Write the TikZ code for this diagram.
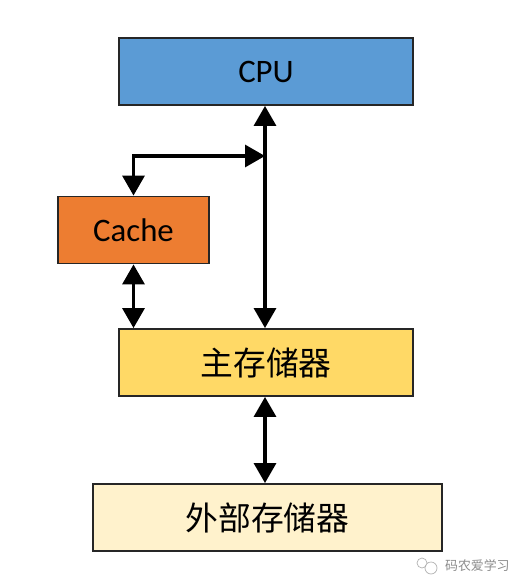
\documentclass[tikz,border=0pt]{standalone}
\usepackage{fontspec}
\setmainfont{Carlito}
\newfontfamily\cjk{Noto Sans CJK SC}
\usetikzlibrary{arrows.meta, positioning}

\begin{document}
\begin{tikzpicture}[x=0.03cm, y=-0.03cm]

\tikzset{
  unit/.style={rectangle, draw=black!85, line width=1.6pt, inner sep=0pt,
    minimum height=2.01cm, font=\fontsize{28}{30}\selectfont},
  bus/.style={line width=2.8pt, {Triangle[length=6mm, width=6.6mm]}-{Triangle[length=6mm, width=6.6mm]}},
  wmtext/.style={text=black!45, font=\cjk\fontsize{11}{12}\selectfont}
}

% --- Rahmen ---
\useasboundingbox (0,0) rectangle (526,588);

% --- Bausteine (mit absoluten Koordinaten) ---
\node[unit, fill={rgb,255:red,91;green,155;blue,213}, minimum width=8.82cm] (cpu) at (266,71.5) {CPU};
\node[unit, fill={rgb,255:red,237;green,125;blue,49}, minimum width=4.53cm] (cache) at (133.5,230) {Cache};
\node[unit, fill={rgb,255:red,255;green,217;blue,102}, minimum width=8.82cm] (mem) at (266,362.5) {\cjk\fontsize{28}{30}\selectfont 主存储器};
\node[unit, fill={rgb,255:red,255;green,242;blue,204}, minimum width=10.47cm] (ext) at (267.5,517.5) {\cjk\fontsize{28}{30}\selectfont 外部存储器};

\coordinate (split) at (265,156);

% --- Verbindungen ---
\draw[bus] (cpu.south -| split) -- (mem.north -| split);
\draw[bus] (cache.north) |- (split);
\draw[bus] (cache.south) -- (mem.north -| cache.south);
\draw[bus] (mem.south -| split) -- (ext.north -| split);

% --- Wasserzeichen ---
\draw[black!30, line width=0.6pt] (422,563) circle (5) (431,568) circle (6);
\node[wmtext, anchor=west] (wm) at (441,566) {码农爱学习};

\end{tikzpicture}
\end{document}
